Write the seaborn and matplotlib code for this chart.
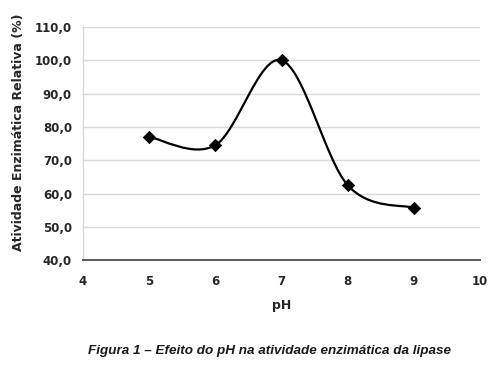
import matplotlib
matplotlib.use("Agg")
import matplotlib.pyplot as plt
import seaborn as sns
import numpy as np
from matplotlib.path import Path
from matplotlib.patches import PathPatch
from matplotlib.ticker import FuncFormatter

# data
ph = [5, 6, 7, 8, 9]
atividade = [77.0, 74.5, 100.0, 62.5, 55.7]

sns.set_style("white")
plt.rcParams['font.family'] = ['DejaVu Sans']

fig = plt.figure(figsize=(5, 3.69), dpi=100)
ax = fig.add_axes([0.166, 0.295, 0.794, 0.632])

# markers via seaborn
sns.scatterplot(x=ph, y=atividade, marker="D", s=40, color="black",
                edgecolor="black", zorder=5, ax=ax)

# smoothed line (Excel-like Catmull-Rom bezier) through the data points
x = np.array(ph, dtype=float)
y = np.array(atividade, dtype=float)
verts = [(x[0], y[0])]
codes = [Path.MOVETO]
n = len(x)
for i in range(n - 1):
    x0, y0 = (x[i - 1], y[i - 1]) if i > 0 else (x[i], y[i])
    x3, y3 = (x[i + 2], y[i + 2]) if i + 2 < n else (x[i + 1], y[i + 1])
    c1 = (x[i] + (x[i + 1] - x0) / 6, y[i] + (y[i + 1] - y0) / 6)
    c2 = (x[i + 1] - (x3 - x[i]) / 6, y[i + 1] - (y3 - y[i]) / 6)
    verts += [c1, c2, (x[i + 1], y[i + 1])]
    codes += [Path.CURVE4] * 3
ax.add_patch(PathPatch(Path(verts, codes), facecolor="none",
                       edgecolor="black", lw=1.6, zorder=4))

ax.set_xlim(4, 10)
ax.set_ylim(40, 110)
ax.set_xticks(range(4, 11))
ax.set_yticks(np.arange(40, 111, 10))
ax.yaxis.set_major_formatter(FuncFormatter(lambda v, p: f"{v:.1f}".replace(".", ",")))

ax.grid(axis="y", color="#d9d9d9", lw=1)
ax.set_axisbelow(True)
for s in ["top", "right"]:
    ax.spines[s].set_visible(False)
ax.spines["left"].set_color("#d9d9d9")
ax.spines["left"].set_linewidth(1)
ax.spines["bottom"].set_color("#595959")
ax.spines["bottom"].set_linewidth(1.4)

ax.tick_params(axis="x", direction="inout", length=7, width=1.2, color="#595959",
               pad=7, labelsize=8.5, labelcolor="#262626")
ax.tick_params(axis="y", direction="out", length=4, width=1, color="#d9d9d9",
               pad=4, labelsize=8.5, labelcolor="#262626")
for lab in ax.get_xticklabels() + ax.get_yticklabels():
    lab.set_fontweight("bold")

ax.set_xlabel("pH", fontsize=9, fontweight="bold", color="#262626", labelpad=8)
ax.set_ylabel("Atividade Enzimática Relativa (%)", fontsize=9, fontweight="bold",
              color="#262626", labelpad=6)
ax.yaxis.set_label_coords(-0.145, 0.55)

fig.text(0.54, 0.05, "Figura 1 – Efeito do pH na atividade enzimática da lipase",
         ha="center", va="center", fontsize=9.7, fontweight="bold", style="italic",
         family=["Liberation Sans", "DejaVu Sans"], color="#1a1a1a")

fig.savefig("out.png", dpi=100)
